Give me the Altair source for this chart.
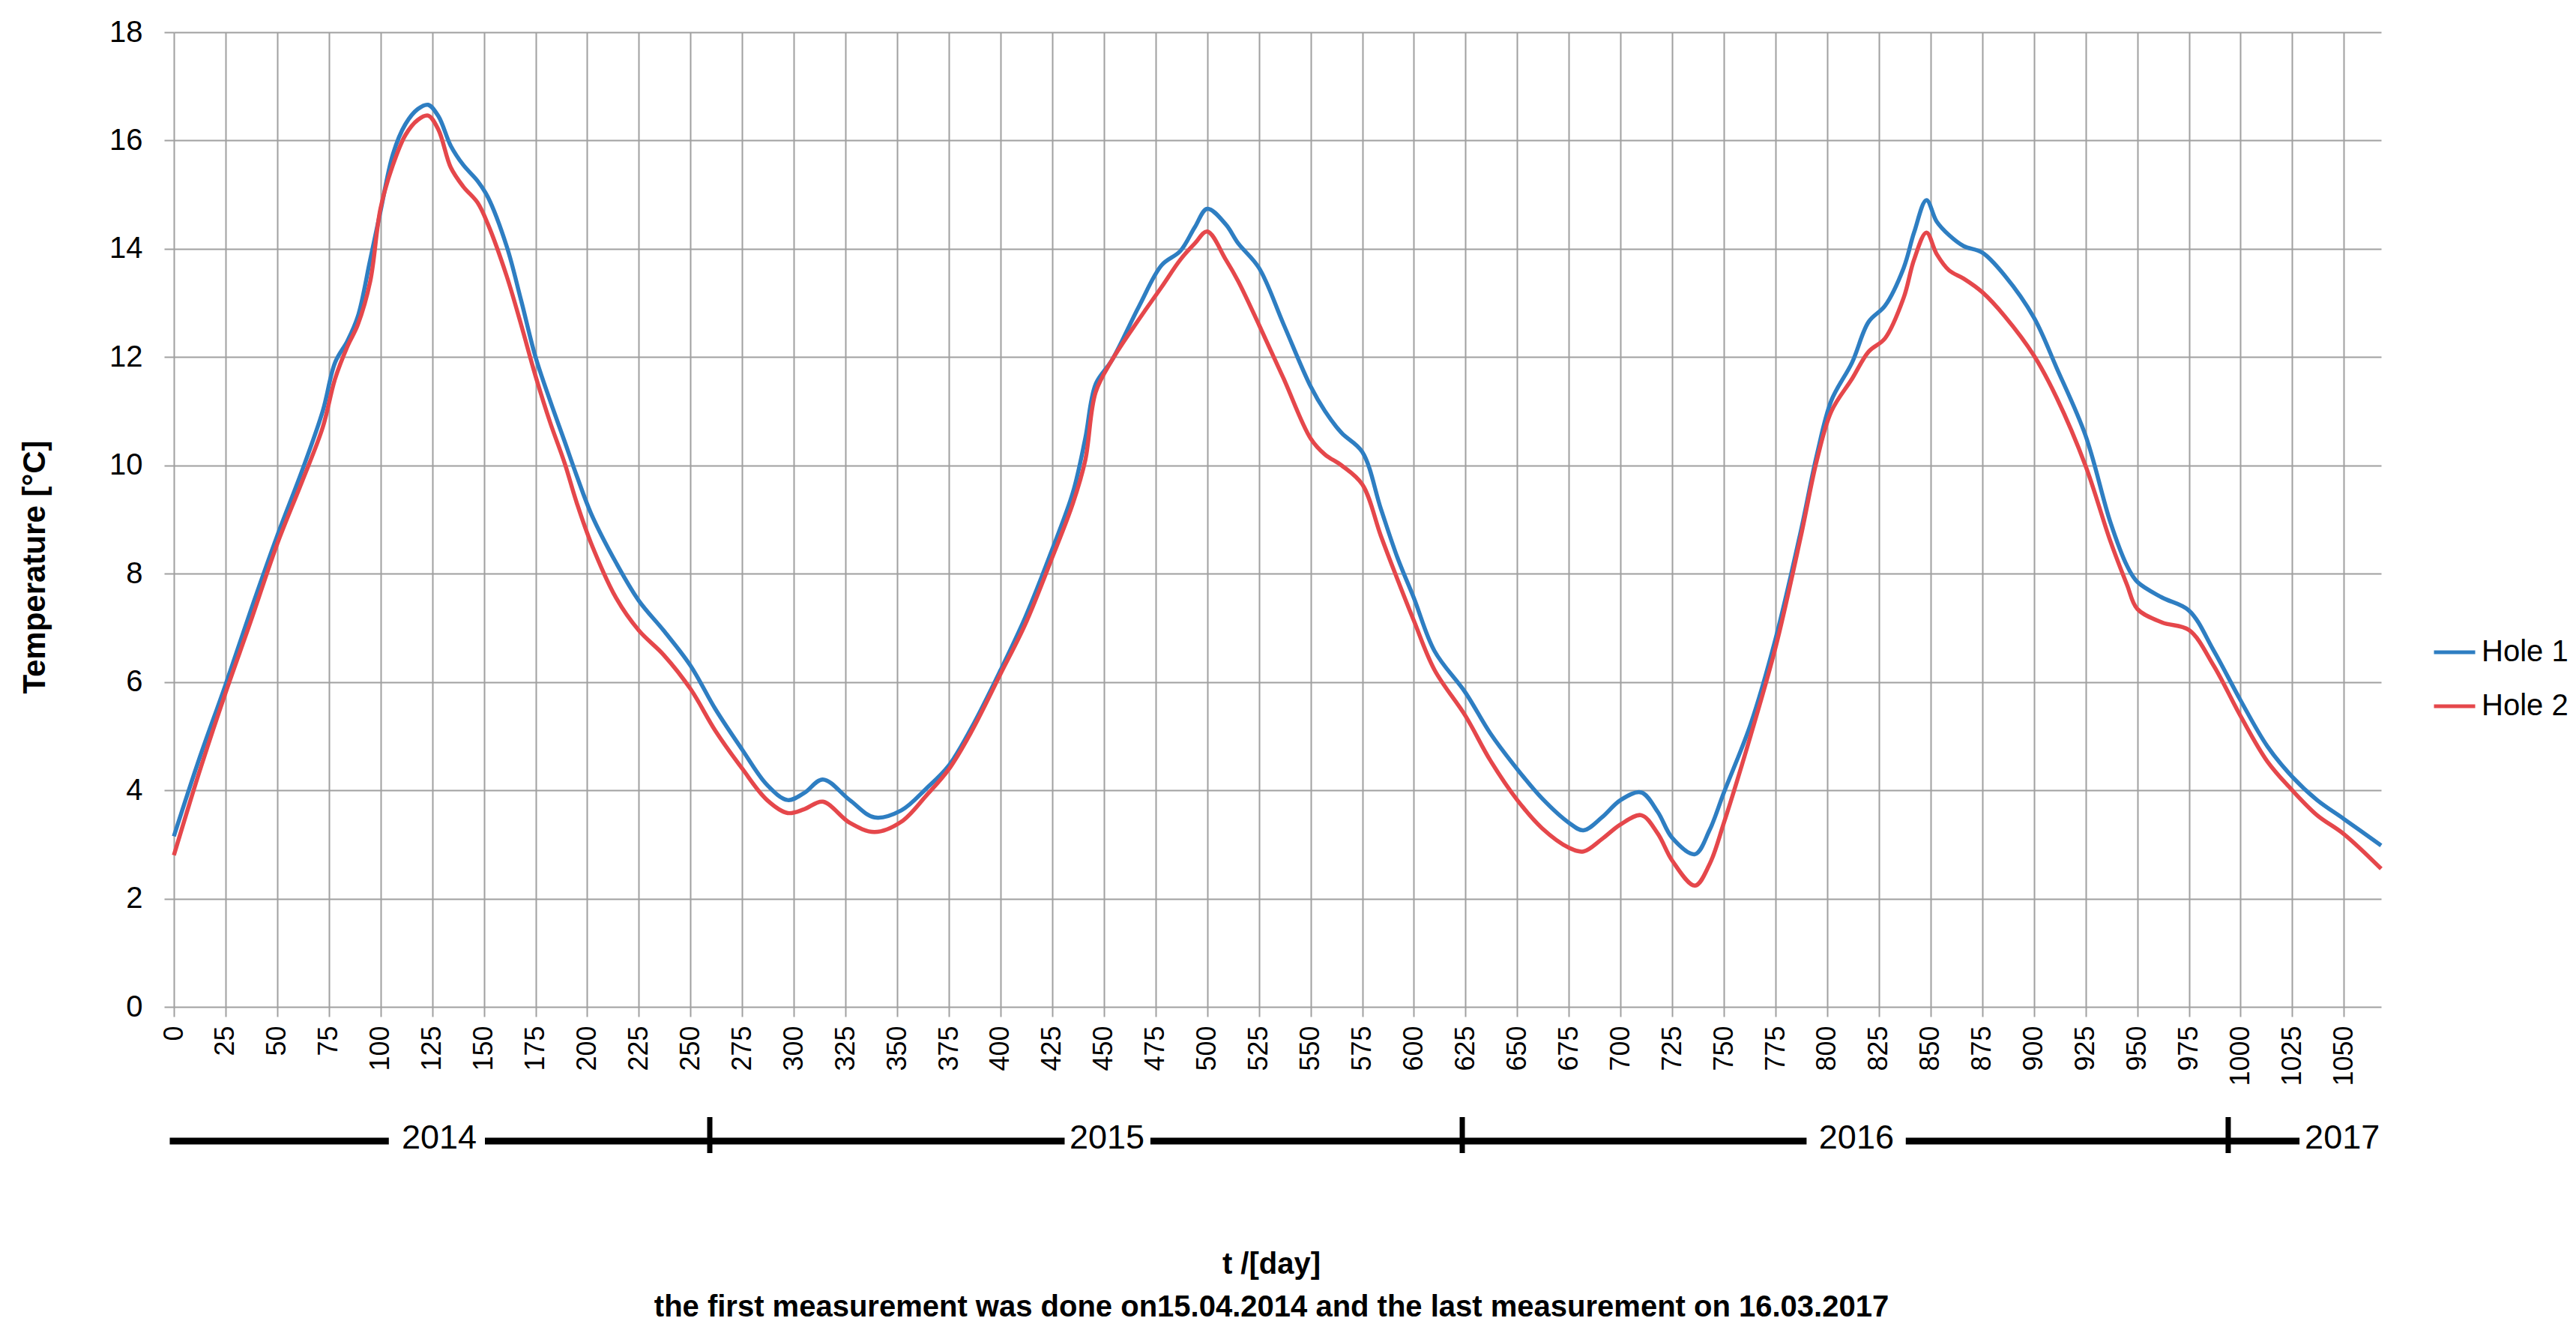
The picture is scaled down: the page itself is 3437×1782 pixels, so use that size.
import altair as alt
import pandas as pd

# ---- data ----
days = [0, 12, 25, 37, 50, 62, 72, 78, 84, 89, 95, 100, 106, 112, 118, 123, 128, 134, 140, 147,
        152, 161, 168, 175, 182, 189, 195, 202, 214, 225, 237, 250, 262, 275, 287, 297, 305, 314,
        327, 339, 352, 364, 375, 386, 400, 412, 425, 435, 441, 446, 454, 467, 478, 487, 494, 500,
        509, 515, 525, 537, 550, 557, 565, 575, 584, 592, 600, 610, 625, 637, 650, 662, 675, 682,
        691, 700, 710, 718, 725, 736, 743, 750, 763, 775, 787, 795, 802, 812, 820, 828, 837, 842,
        848, 853, 859, 866, 875, 886, 900, 911, 925, 937, 945, 950, 962, 975, 987, 1000, 1013,
        1025, 1037, 1050, 1068]

hole1 = [3.15, 4.55, 5.95, 7.3, 8.7, 9.9, 11.0, 11.9, 12.3, 12.75, 13.8, 14.7, 15.75, 16.3, 16.58,
         16.66, 16.45, 15.9, 15.55, 15.25, 14.95, 14.05, 13.05, 12.0, 11.2, 10.45, 9.8, 9.1, 8.2, 7.5,
         6.95, 6.3, 5.5, 4.75, 4.1, 3.82, 3.95, 4.2, 3.82, 3.5, 3.63, 4.03, 4.46, 5.16, 6.22, 7.2,
         8.45, 9.5, 10.5, 11.5, 11.95, 12.94, 13.7, 13.96, 14.4, 14.74, 14.45, 14.1, 13.65, 12.6,
         11.46, 11.0, 10.6, 10.25, 9.2, 8.3, 7.55, 6.57, 5.8, 5.05, 4.39, 3.85, 3.4, 3.26, 3.5,
         3.82, 3.96, 3.6, 3.12, 2.82, 3.26, 3.96, 5.23, 6.8, 8.75, 10.2, 11.2, 11.9, 12.65, 12.95,
         13.65, 14.3, 14.9, 14.5, 14.25, 14.05, 13.93, 13.5, 12.73, 11.8, 10.55, 8.95, 8.15, 7.85,
         7.56, 7.32, 6.58, 5.66, 4.81, 4.25, 3.82, 3.47, 2.98]

hole2 = [2.8, 4.3, 5.8, 7.1, 8.55, 9.7, 10.7, 11.6, 12.2, 12.6, 13.4, 14.75, 15.55, 16.1, 16.38,
         16.46, 16.2, 15.5, 15.15, 14.85, 14.45, 13.5, 12.6, 11.65, 10.8, 10.05, 9.3, 8.55, 7.55, 6.95,
         6.5, 5.87, 5.1, 4.4, 3.82, 3.58, 3.65, 3.79, 3.4, 3.23, 3.42, 3.9, 4.39, 5.09, 6.15, 7.07,
         8.3, 9.3, 10.1, 11.35, 11.95, 12.7, 13.3, 13.8, 14.1, 14.32, 13.8, 13.4, 12.6, 11.6,
         10.5, 10.2, 10.0, 9.65, 8.7, 7.9, 7.13, 6.22, 5.37, 4.55, 3.82, 3.3, 2.94, 2.87, 3.1,
         3.37, 3.54, 3.2, 2.7, 2.24, 2.63, 3.4, 5.02, 6.64, 8.65, 10.1, 11.0, 11.6, 12.1, 12.35,
         13.1, 13.8, 14.3, 13.9, 13.6, 13.45, 13.2, 12.75, 12.03, 11.25, 9.99, 8.6, 7.8, 7.35,
         7.1, 6.96, 6.3, 5.37, 4.53, 4.0, 3.54, 3.19, 2.55]

series_names = ["Hole 1", "Hole 2"]
series_colors = ["#2E7EC2", "#E5474B"]

x_tick_values = [0, 25, 50, 75, 100, 125, 150, 175, 200, 225, 250, 275, 300, 325, 350, 375, 400,
                 425, 450, 475, 500, 525, 550, 575, 600, 625, 650, 675, 700, 725, 750, 775, 800,
                 825, 850, 875, 900, 925, 950, 975, 1000, 1025, 1050]
y_tick_values = [0, 2, 4, 6, 8, 10, 12, 14, 16, 18]

# year band below the axis (in days since first measurement)
year_line_start = [-2, 150.5, 472.5, 838]
year_line_end = [104, 431, 790, 1028.5]
year_tick_days = [259.3, 623.4, 994]
year_labels = ["2014", "2015", "2016", "2017"]
year_label_days = [128.4, 451.5, 814.1, 1049.2]

x_title = ["t /[day]",
           "the first measurement was done on15.04.2014 and the last measurement  on 16.03.2017"]
y_title = "Temperature [°C]"

# ---- tables ----
df = pd.concat([
    pd.DataFrame({"day": days, "temp": hole1, "series": series_names[0]}),
    pd.DataFrame({"day": days, "temp": hole2, "series": series_names[1]}),
], ignore_index=True)
seg_df = pd.DataFrame({"day": year_line_start, "day_end": year_line_end})
tick_df = pd.DataFrame({"day": year_tick_days})
lab_df = pd.DataFrame({"day": year_label_days, "label": year_labels})

FONT = "Liberation Sans"
W, H = 2945, 1300
GRID = "#a0a0a0"

xscale = alt.Scale(domain=[0, 1068], nice=False, zero=False)
x_axis = alt.Axis(values=x_tick_values, title=x_title, labelAngle=270, format="d",
                  labelFontSize=36, labelPadding=12, tickSize=13, labelOverlap=False,
                  labelFlush=False, titleFontSize=40, titleFontWeight="bold",
                  titleLineHeight=57, titleX=1464, titleY=343, titleAlign="center",
                  titleBaseline="middle", grid=True)

lines = alt.Chart(df).mark_line(interpolate="catmull-rom", strokeWidth=5.5).encode(
    x=alt.X("day:Q", scale=xscale, axis=x_axis),
    y=alt.Y("temp:Q", scale=alt.Scale(domain=[0, 18], nice=False),
            axis=alt.Axis(values=y_tick_values, title=y_title, labelFontSize=40,
                          labelPadding=29, tickSize=13, titleFontSize=42,
                          titleFontWeight="bold", titleX=-186, titleY=713, titleAngle=270,
                          titleAlign="center", titleBaseline="middle", grid=True)),
    color=alt.Color("series:N",
                    scale=alt.Scale(domain=series_names, range=series_colors),
                    legend=alt.Legend(title=None, orient="none", legendX=3013, legendY=797,
                                      symbolType="stroke", symbolSize=3025,
                                      symbolStrokeWidth=5, labelFontSize=40, labelOffset=6,
                                      rowPadding=22, labelFont=FONT, labelColor="black")),
)

segs = alt.Chart(seg_df).mark_rule(strokeWidth=9, color="black", strokeCap="butt").encode(
    x=alt.X("day:Q", scale=xscale, axis=x_axis),
    x2="day_end:Q",
    y=alt.value(1479),
)

ticks = alt.Chart(tick_df).mark_rule(strokeWidth=7, color="black").encode(
    x=alt.X("day:Q", scale=xscale, axis=x_axis),
    y=alt.value(1447),
    y2=alt.value(1495),
)

labels = alt.Chart(lab_df).mark_text(fontSize=45, font=FONT, color="black",
                                      align="center", baseline="middle").encode(
    x=alt.X("day:Q", scale=xscale, axis=x_axis),
    y=alt.value(1475),
    text="label:N",
)

chart = alt.layer(lines, segs, ticks, labels).properties(
    width=W, height=H,
    autosize=alt.AutoSizeParams(type="none"),
    padding={"left": 224, "top": 35, "right": 252, "bottom": 431},
    background="white",
).configure_axis(
    gridColor=GRID, gridWidth=2, domain=False, tickColor=GRID, tickWidth=2,
    labelFont=FONT, titleFont=FONT, labelColor="black", titleColor="black",
).configure_view(strokeWidth=0)

chart.save("out.html", embed_options={"renderer": "svg", "actions": False})
